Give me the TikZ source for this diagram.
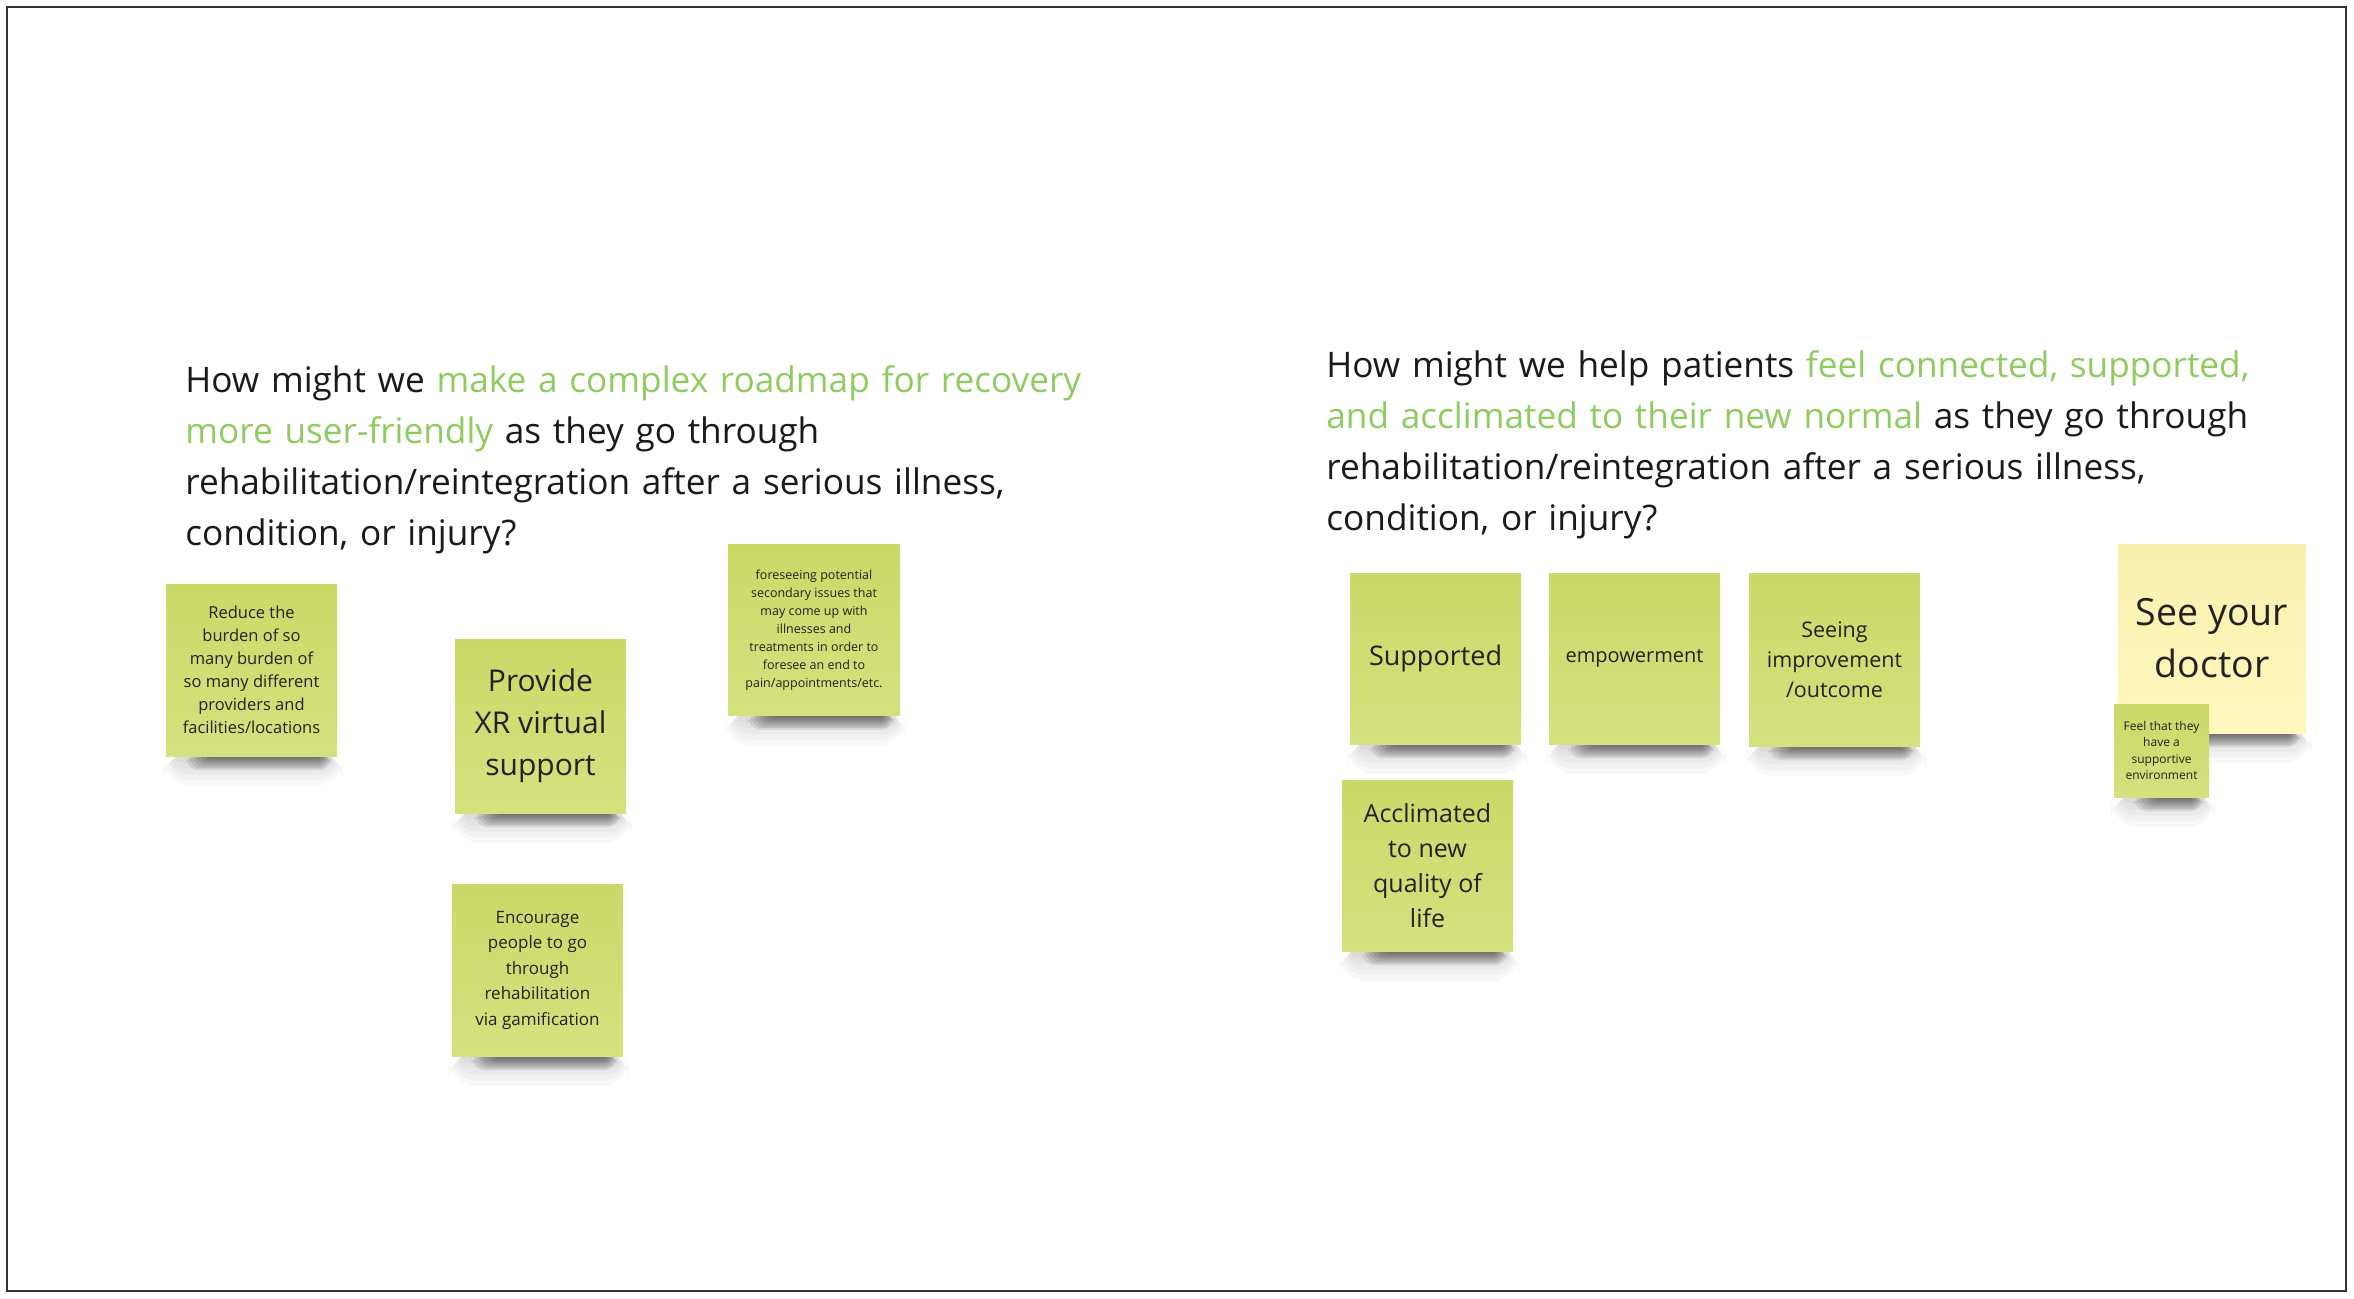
\documentclass[tikz,border=0pt]{standalone}
\usepackage{fontspec}
\setmainfont{Open Sans}
\usetikzlibrary{backgrounds}
\pgfdeclarelayer{paper}
\pgfsetlayers{paper,background,main}
\definecolor{sgtop}{HTML}{CBD968}
\definecolor{sgbot}{HTML}{D5E17E}
\definecolor{sytop}{HTML}{F9F0AE}
\definecolor{sybot}{HTML}{FEF8BE}
\definecolor{notetext}{HTML}{222222}
\definecolor{headblack}{HTML}{1A1A1A}
\definecolor{hmwgreen}{HTML}{8ECC60}
\newcommand\hl[1]{{\color{hmwgreen}#1}}
\newcommand\nshadow[1]{%
  \begin{scope}[on background layer]
    \foreach \d in {6,12,...,30}{%
      \fill[black,opacity=0.028,rounded corners={0.5pt*\d}]
        ([xshift={(12-\d*0.5)*0.5pt},yshift=2pt]#1.south west) rectangle ([xshift={-(6-\d*0.4)*0.5pt},yshift={-0.5pt*\d}]#1.south east);}
    \foreach \d in {2,4,...,14}{%
      \fill[black,opacity=0.085,rounded corners={0.5pt*\d}]
        ([xshift={(48-2*\d)*0.5pt},yshift=2pt]#1.south west) rectangle ([xshift={-(20-\d)*0.5pt},yshift={-0.5pt*\d}]#1.south east);}
  \end{scope}}
\tikzset{
  sticky/.style={top color=sgtop, bottom color=sgbot, draw=none, inner sep=0pt, align=center, text=notetext},
  yellowsticky/.style={top color=sytop, bottom color=sybot, draw=none, inner sep=0pt, align=center, text=notetext},
  size/.style 2 args={minimum width=#1*0.5pt, minimum height=#2*0.5pt},
  fs/.style 2 args={font=\fontsize{#1pt}{#2pt}\selectfont},
  heading/.style={anchor=base west, inner sep=0pt, text width=560pt, align=left, text=headblack, font=\fontsize{17.6pt}{25.5pt}\selectfont},
}
\begin{document}
\begin{tikzpicture}[x=0.5pt,y=-0.5pt]
\useasboundingbox (0,0) rectangle (2354,1298);
\begin{pgfonlayer}{paper}
\fill[white] (0,0) rectangle (2354,1298);
\end{pgfonlayer}
\draw[line width=1pt, draw=black!80] (7,7) rectangle (2346,1291);

% headings
\node[heading] (hmw1) at (185,392) {How might we \hl{make a complex roadmap for recovery}\\\hl{more user-friendly} as they go through\\rehabilitation/reintegration after a serious illness,\\condition, or injury?};
\node[heading] (hmw2) at (1326,377) {How might we help patients \hl{feel connected, supported,}\\\hl{and acclimated to their new normal} as they go through\\rehabilitation/reintegration after a serious illness,\\condition, or injury?};

% left notes
\node[sticky, size={171}{172}, fs={8.25}{11.5}] (reduce) at (251.5,670) {Reduce the\\burden of so\\many burden of\\so many different\\providers and\\facilities/locations};
\node[sticky, size={171}{174}, fs={15}{21}] (provide) at (540.5,726) {Provide\\XR virtual\\support};
\node[sticky, size={172}{171}, fs={6.25}{9}] (foresee) at (814,630) {foreseeing potential\\secondary issues that\\may come up with\\illnesses and\\treatments in order to\\foresee an end to\\pain/appointments/etc.};
\node[sticky, size={171}{172}, fs={8.5}{12.75}] (encourage) at (537.5,970) {Encourage\\people to go\\through\\rehabilitation\\via gamification};

% right notes
\node[sticky, size={171}{171}, fs={13.5}{18}] (supported) at (1435.5,658.5) {Supported};
\node[sticky, size={171}{171}, fs={10}{15}] (empower) at (1634.5,658.5) {empowerment};
\node[sticky, size={171}{173}, fs={10.75}{15}] (seeing) at (1834.5,659.5) {Seeing\\improvement\\/outcome};
\node[sticky, size={171}{171}, fs={12.5}{17.5}] (acclim) at (1427.5,865.5) {Acclimated\\to new\\quality of\\life};
\node[yellowsticky, size={188}{189}, fs={18.75}{26}] (doctor) at (2212,638.5) {See your\\doctor};
\node[sticky, size={95}{93}, fs={6}{8.2}] (feel) at (2161.5,750.5) {Feel that they\\have a\\supportive\\environment};

\nshadow{reduce}
\nshadow{provide}
\nshadow{foresee}
\nshadow{encourage}
\nshadow{supported}
\nshadow{empower}
\nshadow{seeing}
\nshadow{acclim}
\nshadow{doctor}
\nshadow{feel}
\end{tikzpicture}
\end{document}
